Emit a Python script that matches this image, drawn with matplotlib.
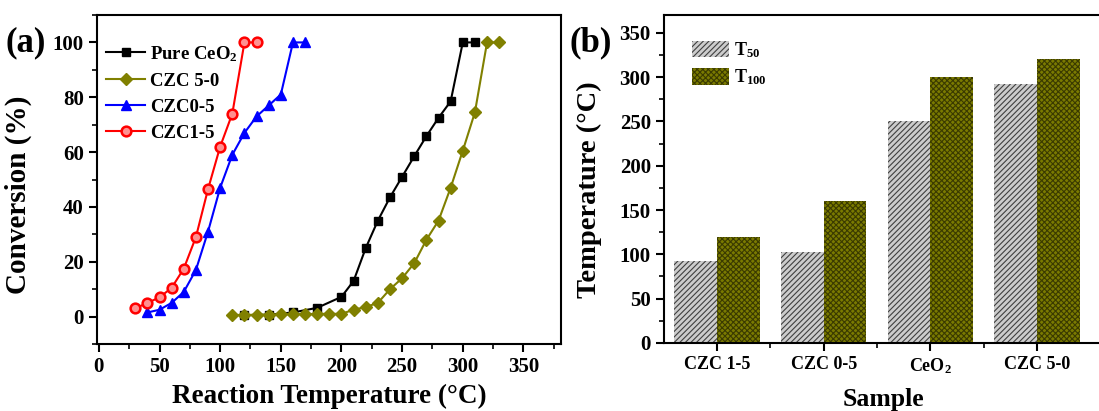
import numpy as np
import matplotlib.pyplot as plt
from matplotlib.ticker import MultipleLocator, FixedLocator

plt.rcParams['font.family'] = ['Liberation Serif', 'DejaVu Serif']
plt.rcParams['font.weight'] = 'bold'
plt.rcParams['mathtext.fontset'] = 'custom'
plt.rcParams['mathtext.rm'] = 'Liberation Serif:bold'
plt.rcParams['mathtext.bf'] = 'Liberation Serif:bold'
plt.rcParams['mathtext.it'] = 'Liberation Serif:bold'
plt.rcParams['hatch.linewidth'] = 0.8

# ---------------- (a) light-off curves ----------------
T_ceo2 = [120, 140, 160, 180, 200, 210, 220, 230, 240, 250, 260, 270, 280, 290, 300, 310]
X_ceo2 = [0.5, 0.7, 1.5, 3.2, 7.2, 13, 25, 35, 43.5, 51, 58.5, 65.8, 72.5, 78.5, 100, 100]

T_czc50 = [110, 120, 130, 140, 150, 160, 170, 180, 190, 200, 210, 220, 230, 240,
           250, 260, 270, 280, 290, 300, 310, 320, 330]
X_czc50 = [0.6, 0.6, 0.7, 0.7, 0.8, 0.9, 0.9, 1.0, 1.0, 1.0, 2.5, 3.5, 5, 10,
           14, 19.5, 28, 35, 47, 60.5, 74.5, 100, 100]

T_czc05 = [40, 50, 60, 70, 80, 90, 100, 110, 120, 130, 140, 150, 160, 170]
X_czc05 = [1.5, 2.5, 5, 9, 17, 31, 47, 59, 67, 73, 77, 81, 100, 100]

T_czc15 = [30, 40, 50, 60, 70, 80, 90, 100, 110, 120, 130]
X_czc15 = [3, 5, 7, 10.5, 17.5, 29, 46.5, 62, 74, 100, 100]

# ---------------- (b) T50 / T100 ----------------
samples = ['CZC 1-5', 'CZC 0-5', 'CeO$_2$', 'CZC 5-0']
T50 = [93, 103, 250, 292]
T100 = [120, 160, 300, 320]

fig = plt.figure(figsize=(10.99, 4.11), dpi=100)

ax1 = fig.add_axes([0.0883, 0.163, 0.4222, 0.8005])
ax1.plot(T_ceo2, X_ceo2, '-s', color='black', lw=1.5, ms=6, label='Pure CeO$_2$')
ax1.plot(T_czc50, X_czc50, '-D', color='#808000', lw=1.5, ms=6, label='CZC 5-0')
ax1.plot(T_czc05, X_czc05, '-^', color='#0000ff', lw=1.5, ms=7, label='CZC0-5')
ax1.plot(T_czc15, X_czc15, '-o', color='#ff0000', lw=1.5, ms=7,
         mfc='#ff9090', mec='#ff0000', mew=1.8, label='CZC1-5')
ax1.set_xlim(-1.5, 381)
ax1.set_ylim(-10, 110)
ax1.xaxis.set_major_locator(MultipleLocator(50))
ax1.xaxis.set_minor_locator(MultipleLocator(25))
ax1.yaxis.set_major_locator(FixedLocator([0, 20, 40, 60, 80, 100]))
ax1.yaxis.set_minor_locator(MultipleLocator(10))
ax1.set_xlabel('Reaction Temperature (°C)', fontsize=19.5, fontweight='bold')
ax1.set_ylabel('Conversion (%)', fontsize=21, fontweight='bold')
ax1.xaxis.set_label_coords(0.5, -0.122)
ax1.yaxis.set_label_coords(-0.14, 0.453)
ax1.legend(loc='upper left', bbox_to_anchor=(0.019, 0.912), frameon=False,
           fontsize=13.5, handlelength=2.1, handletextpad=0.27, labelspacing=0.48,
           borderaxespad=0, borderpad=0)
fig.text(0.005, 0.875, '(a)', fontsize=25, fontweight='bold')

ax2 = fig.add_axes([0.6042, 0.1655, 0.3985, 0.798])
x = np.arange(1, len(samples) + 1)
w = 0.4
ax2.bar(x - w / 2, T50, width=w, facecolor='#cccccc', edgecolor='#404040',
        hatch='//////', lw=0, label='T$_{50}$')
ax2.bar(x + w / 2, T100, width=w, facecolor='#7a7a00', edgecolor='#3a3a00',
        hatch='xxxxxx', lw=0, label='T$_{100}$')
ax2.set_xlim(0.503, 4.61)
ax2.set_ylim(0, 370)
ax2.set_xticks(x)
ax2.set_xticklabels(samples)
ax2.xaxis.set_minor_locator(FixedLocator([1.5, 2.5, 3.5]))
ax2.yaxis.set_major_locator(MultipleLocator(50))
ax2.yaxis.set_minor_locator(MultipleLocator(25))
ax2.set_xlabel('Sample', fontsize=18.5, fontweight='bold')
ax2.set_ylabel('Temperature (°C)', fontsize=20.5, fontweight='bold')
ax2.xaxis.set_label_coords(0.5, -0.137)
ax2.yaxis.set_label_coords(-0.142, 0.466)
ax2.legend(loc='upper left', frameon=False, fontsize=13, handlelength=2.05,
           handleheight=1.0, handletextpad=0.3, labelspacing=0.45,
           borderaxespad=0, borderpad=0, bbox_to_anchor=(0.064, 0.924))
fig.text(0.518, 0.875, '(b)', fontsize=25, fontweight='bold')

for ax in (ax1, ax2):
    for sp in ax.spines.values():
        sp.set_linewidth(1.5)
    ax.tick_params(which='major', direction='out', length=6, width=1.5,
                   labelsize=15, top=False, right=False)
    ax.tick_params(which='minor', direction='out', length=3.5, width=1.2,
                   top=False, right=False)
    for lab in ax.get_xticklabels() + ax.get_yticklabels():
        lab.set_fontweight('bold')
ax2.tick_params(axis='x', which='major', labelsize=13)

fig.savefig('out.png', dpi=100)
